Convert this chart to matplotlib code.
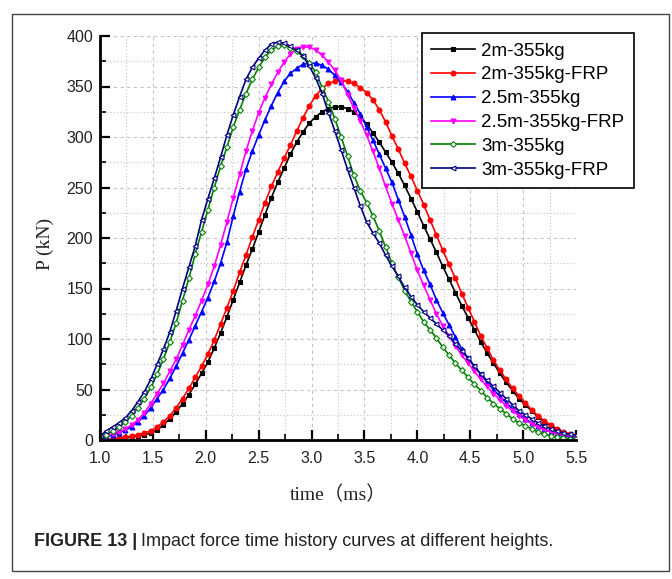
import numpy as np
from matplotlib import pyplot as plt
from matplotlib import font_manager
from matplotlib.patches import Rectangle
from matplotlib.ticker import MultipleLocator

# sample times (ms)
time = [1.00, 1.06, 1.12, 1.18, 1.24, 1.30, 1.36, 1.42, 1.48, 1.54,
        1.60, 1.66, 1.72, 1.78, 1.84, 1.90, 1.96, 2.02, 2.08, 2.14,
        2.20, 2.26, 2.32, 2.38, 2.44, 2.50, 2.56, 2.62, 2.68, 2.74,
        2.80, 2.86, 2.92, 2.98, 3.04, 3.10, 3.16, 3.22, 3.28, 3.34,
        3.40, 3.46, 3.52, 3.58, 3.64, 3.70, 3.76, 3.82, 3.88, 3.94,
        4.00, 4.06, 4.12, 4.18, 4.24, 4.30, 4.36, 4.42, 4.48, 4.54,
        4.60, 4.66, 4.72, 4.78, 4.84, 4.90, 4.96, 5.02, 5.08, 5.14,
        5.20, 5.26, 5.32, 5.38, 5.44, 5.50]

# impact force P (kN)
p_2m = [0, 0, 1, 1, 2, 3, 4, 5, 7, 10,
        15, 21, 28, 36, 45, 55, 66, 77, 91, 106,
        122, 139, 156, 173, 189, 206, 223, 240, 255, 269,
        283, 295, 305, 314, 320, 325, 328, 330, 330, 328,
        325, 320, 313, 304, 295, 285, 275, 264, 252, 239,
        226, 212, 199, 186, 172, 159, 146, 133, 121, 109,
        97, 86, 76, 66, 57, 49, 41, 35, 29, 23,
        18, 14, 10, 7, 5, 3]
p_2m_frp = [0, 0.5, 1, 2, 3, 4, 5, 7, 9, 13,
            18, 24, 32, 41, 51, 62, 73, 85, 99, 115,
            131, 148, 166, 183, 201, 218, 235, 251, 265, 279,
            292, 306, 319, 331, 341, 348, 353, 355, 356, 355,
            353, 349, 344, 337, 327, 315, 301, 288, 274, 261,
            247, 233, 218, 203, 188, 174, 160, 145, 131, 117,
            103, 91, 79, 69, 60, 51, 44, 37, 30, 24,
            19, 15, 11, 8, 6, 4]
p_25m = [1, 3, 5, 7, 10, 13, 18, 24, 32, 41,
         50, 61, 73, 86, 99, 113, 127, 141, 157, 175,
         196, 222, 246, 268, 286, 302, 317, 331, 344, 355,
         363, 368, 372, 373, 373, 371, 367, 361, 354, 345,
         334, 323, 310, 297, 283, 269, 255, 238, 221, 203,
         184, 168, 154, 139, 126, 114, 102, 90, 81, 73,
         65, 57, 50, 43, 37, 31, 26, 21, 17, 14,
         11, 8, 6, 4, 3, 2]
p_25m_frp = [2, 4, 6, 8, 11, 15, 20, 27, 36, 46,
             56, 68, 80, 94, 109, 123, 138, 154, 172, 193,
             216, 240, 263, 286, 306, 324, 339, 352, 364, 374,
             382, 387, 389, 389, 386, 381, 374, 366, 356, 342,
             329, 316, 302, 286, 269, 251, 234, 218, 202, 185,
             168, 153, 139, 125, 113, 103, 93, 84, 76, 68,
             60, 53, 46, 40, 34, 29, 24, 20, 16, 13,
             10, 8, 6, 5, 4, 3]
p_3m = [2, 5, 9, 13, 18, 24, 32, 41, 52, 65,
        80, 97, 116, 138, 160, 184, 206, 228, 250, 271,
        290, 310, 327, 343, 357, 369, 379, 386, 390, 391,
        388, 385, 380, 373, 364, 349, 335, 318, 300, 281,
        262, 247, 235, 222, 207, 191, 175, 161, 148, 137,
        127, 117, 109, 101, 92, 84, 76, 69, 62, 55,
        49, 42, 36, 31, 26, 21, 17, 14, 11, 8,
        6, 4, 3, 2, 1, 1]
p_3m_frp = [4, 9, 13, 17, 22, 29, 38, 48, 60, 75,
            90, 107, 128, 150, 171, 192, 218, 239, 259, 280,
            302, 322, 340, 357, 369, 378, 386, 392, 394, 393,
            390, 386, 380, 370, 358, 343, 324, 306, 287, 268,
            250, 232, 216, 205, 195, 183, 172, 162, 151, 142,
            134, 127, 121, 115, 109, 103, 95, 88, 81, 73,
            65, 59, 53, 47, 41, 35, 29, 25, 21, 17,
            14, 11, 9, 7, 6, 5]

labels = ['2m-355kg', '2m-355kg-FRP', '2.5m-355kg', '2.5m-355kg-FRP',
          '3m-355kg', '3m-355kg-FRP']
series = [p_2m, p_2m_frp, p_25m, p_25m_frp, p_3m, p_3m_frp]

colors = ['#000000', '#ff0000', '#0000ff', '#ff00ff', '#008000', '#000080']
markers = ['s', 'o', '^', 'v', 'D', '<']
faces = ['#000000', '#ff0000', '#0000ff', '#ff00ff', 'white', 'white']

names = {f.name for f in font_manager.fontManager.ttflist}
sans = 'Liberation Sans'
cap_font = 'Liberation Sans Narrow' if 'Liberation Sans Narrow' in names else 'Liberation Sans'

fig = plt.figure(figsize=(6.72, 5.79), dpi=100)
ax = fig.add_axes([100/672, 1-440/579, 476/672, 404/579])

for y, lab, c, m, fc in zip(series, labels, colors, markers, faces):
    ms = 3.0 if m == 'D' else 3.5
    ax.plot(time, y, color=c, marker=m, markersize=ms, markerfacecolor=fc,
            markeredgecolor=c, markeredgewidth=0.8, linewidth=1.2, label=lab)

ax.set_xlim(1.0, 5.5)
ax.set_ylim(0, 400)
ax.xaxis.set_major_locator(MultipleLocator(0.5))
ax.xaxis.set_minor_locator(MultipleLocator(0.25))
ax.yaxis.set_major_locator(MultipleLocator(50))
ax.yaxis.set_minor_locator(MultipleLocator(25))
ax.xaxis.set_major_formatter(plt.FormatStrFormatter('%.1f'))

ax.grid(which='major', color='#c4c4c4', linestyle=(0, (3, 3)), linewidth=0.8)
ax.grid(which='minor', color='#c4c4c4', linestyle=(0, (1, 2)), linewidth=0.8)
ax.set_axisbelow(True)

for s in ['top', 'right']:
    ax.spines[s].set_visible(False)
for s in ['left', 'bottom']:
    ax.spines[s].set_linewidth(2)

ax.tick_params(which='major', direction='in', length=7, width=1.6,
               labelsize=11.5, labelcolor='#222222')
ax.tick_params(which='minor', direction='in', length=4, width=1.2)
ax.tick_params(axis='x', which='major', pad=8)
ax.tick_params(axis='y', which='major', pad=5)
for t in ax.get_xticklabels() + ax.get_yticklabels():
    t.set_fontfamily(sans)

fig.text(45/672, 1-244/579, 'P (kN)', rotation=90, ha='center', va='center',
         fontsize=14, family='Liberation Serif', color='#222222')
fig.text(338/672, 1-495/579, 'time（ms）', ha='center', va='center',
         fontsize=14, family=['Liberation Serif', 'Noto Sans CJK SC'], color='#222222')

leg = ax.legend(loc='upper left', bbox_to_anchor=(422/672, 1-33/579),
                bbox_transform=fig.transFigure, borderaxespad=0, fancybox=False,
                framealpha=1, edgecolor='black', prop={'family': sans, 'size': 13.5},
                handlelength=2.3, handletextpad=0.35, labelspacing=0.36,
                borderpad=0.5, markerscale=1.0)
leg.get_frame().set_linewidth(1.2)

# figure frame and caption
fig.patches.append(Rectangle((12/672, 1-571/579), 657/672, 557/579,
                             transform=fig.transFigure, fill=False,
                             edgecolor='#444444', linewidth=1))
t1 = fig.text(34/672, 1-542/579, 'FIGURE 13 |', fontsize=13, fontweight='bold',
              family=cap_font, va='center', color='#222222')
fig.canvas.draw()
bb = t1.get_window_extent()
fig.text((bb.x1 + 4)/672, 1-542/579, 'Impact force time history curves at different heights.',
         fontsize=13, family=cap_font, va='center', color='#222222')

fig.savefig('out.png', dpi=100)
